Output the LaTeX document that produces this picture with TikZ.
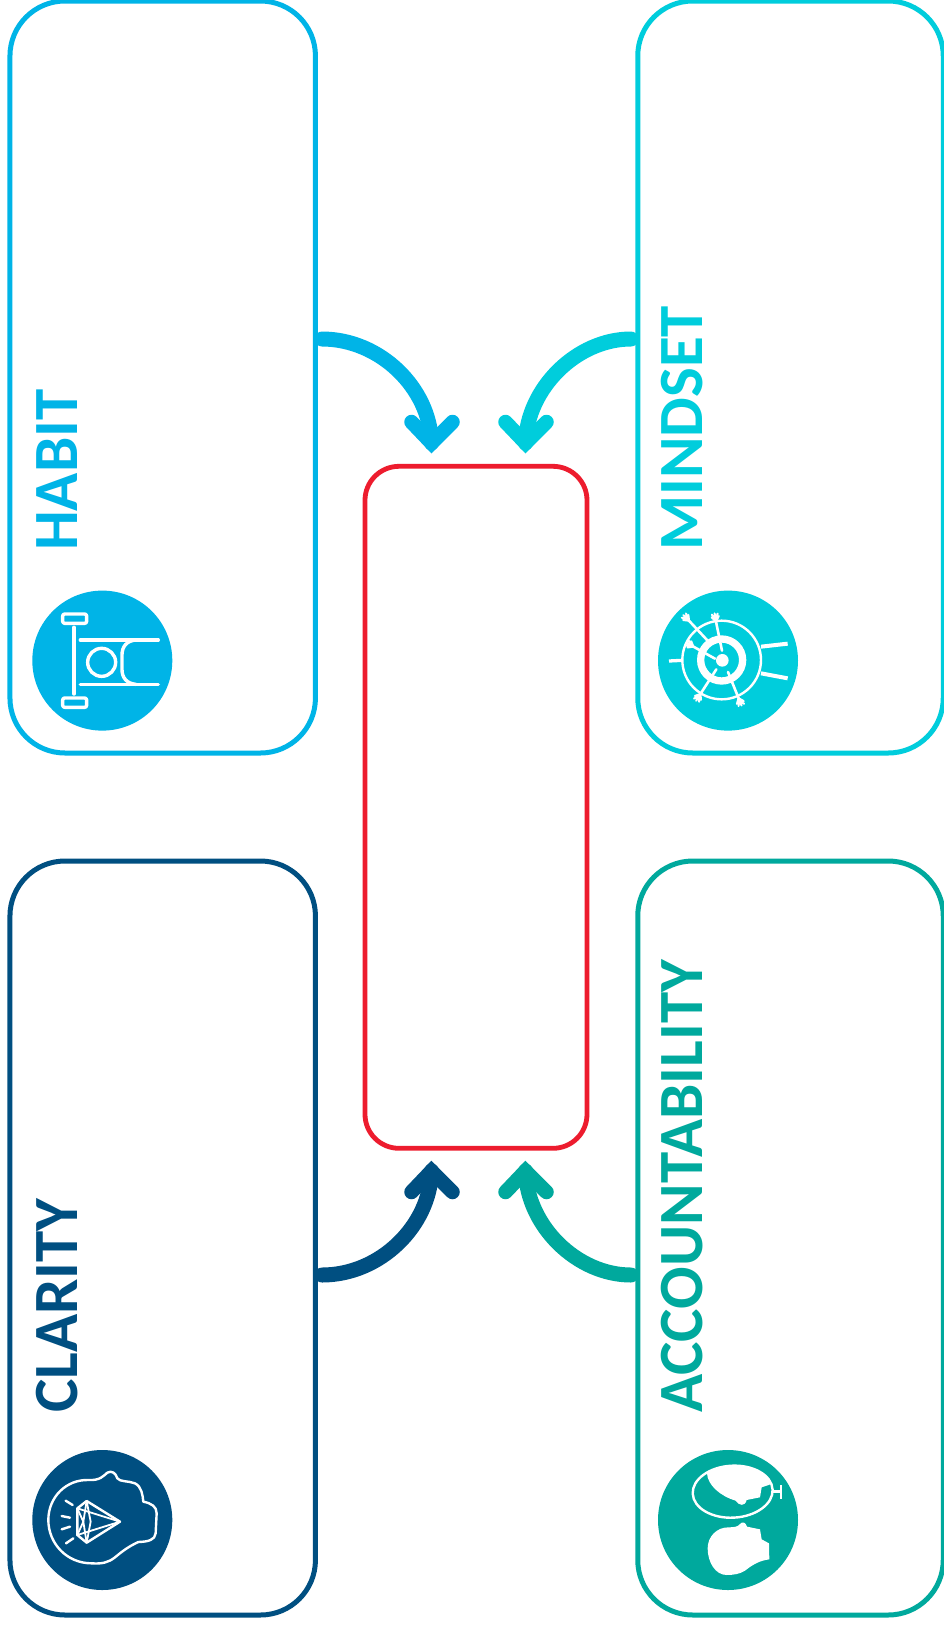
\documentclass[tikz,border=0pt]{standalone}
\usepackage{fontspec}
\setmainfont{Carlito}
\definecolor{habitc}{HTML}{00B4E7}
\definecolor{mindc}{HTML}{00CDDC}
\definecolor{clarc}{HTML}{004F81}
\definecolor{accc}{HTML}{00A99D}
\definecolor{corec}{HTML}{ED1C2E}
\tikzset{
 panel/.style={draw=#1,line width=5pt,rounded corners=55pt,inner sep=0pt,outer sep=0pt,minimum width=305.5pt,minimum height=752pt},
 corebox/.style={draw=corec,line width=4.8pt,rounded corners=34pt,inner sep=0pt,outer sep=0pt,minimum width=222pt,minimum height=682pt},
 disc/.style={fill=#1,circle,inner sep=0pt,outer sep=0pt,minimum size=140pt},
 title/.style={text=#1,rotate=90,anchor=base west,inner sep=0pt,font=\fontsize{63}{66}\selectfont\bfseries},
 flow/.style={draw=#1,line width=15pt,line cap=round},
 chevron/.style={draw=#1,line width=14.5pt,line join=miter,miter limit=10,line cap=round},
 ln/.style={draw=white,line width=#1,line cap=round,line join=round},
 ln/.default=3.4pt,
}
\begin{document}
\begin{tikzpicture}[x=1pt,y=-1pt]
\useasboundingbox (0,0) rectangle (943,1626);
\fill[white] (0,0) rectangle (943,1626);
% panels
\node[panel=habitc,minimum height=752pt] (habit) at (162.7,377) {};
\node[panel=mindc,minimum height=752pt] (mindset) at (790.5,377) {};
\node[panel=clarc,minimum height=754pt] (clarity) at (162.7,1238) {};
\node[panel=accc,minimum height=754pt] (account) at (790.5,1238) {};
\node[corebox] (core) at (476,807.3) {};
% titles
\node[title=habitc] (habitt) at (77,551) {HABIT};
\node[title=mindc] (mindt) at (702,551) {MINDSET};
\node[title=clarc] (clart) at (77,1413) {CLARITY};
\node[title=accc] (acct) at (702,1413) {ACCOUNTABILITY};
% arrows
\coordinate (h0) at (322,339);\coordinate (h1) at (431.5,443);
\coordinate (m0) at (631,339);\coordinate (m1) at (525.5,443);
\coordinate (c0) at (322,1275);\coordinate (c1) at (431.5,1171);
\coordinate (a0) at (631,1275);\coordinate (a1) at (525.5,1171);
\draw[flow=habitc] (h0) .. controls (380,339) and (430,388) .. (h1);
\draw[flow=mindc] (m0) .. controls (577,339) and (527,388) .. (m1);
\draw[flow=clarc] (c0) .. controls (380,1275) and (430,1226) .. (c1);
\draw[flow=accc] (a0) .. controls (577,1275) and (527,1226) .. (a1);
\draw[chevron=habitc] ([shift={(-20,-21)}]h1) -- (h1) -- ([shift={(21,-21)}]h1);
\draw[chevron=mindc] ([shift={(-20,-21)}]m1) -- (m1) -- ([shift={(21,-21)}]m1);
\draw[chevron=clarc] ([shift={(-20,21)}]c1) -- (c1) -- ([shift={(21,21)}]c1);
\draw[chevron=accc] ([shift={(-20,21)}]a1) -- (a1) -- ([shift={(21,21)}]a1);
% discs
\node[disc=habitc] (habiti) at (102.3,660.6) {};
\node[disc=mindc] (mindi) at (728,660.6) {};
\node[disc=clarc] (clari) at (102.3,1520) {};
\node[disc=accc] (acci) at (728,1520) {};
% habit icon
\begin{scope}[shift={(20,580)},x=.3333pt,y=-.3333pt]
\draw[ln,rounded corners=2pt] (128,102) rectangle (200,130);
\draw[ln,rounded corners=2pt] (128,354) rectangle (200,382);
\draw[ln] (162,142) -- (162,342);
\draw[ln] (181,180) -- (415,180);
\draw[ln] (181,313) -- (415,313);
\draw[ln] (245,247) circle (42);
\draw[ln] (348,180) .. controls (320,182) and (306,200) .. (306,225) -- (306,268) .. controls (306,293) and (320,311) .. (348,313);
\end{scope}
% mindset icon
\begin{scope}[shift={(645,580)},x=.3333pt,y=-.3333pt]
\fill[white] (232,241) circle (19);
\draw[ln=7.3pt] (230,240) circle (63);
\draw[ln=2.4pt] (230,240) circle (118);
\draw[ln=4pt,line cap=butt] (348,200) -- (428,191);
\draw[ln=4pt,line cap=butt] (348,280) -- (428,295);
\draw[ln=3.3pt,line cap=butt] (72,243) -- (112,241);
\draw[ln=2.6pt] (132,122) -- (186,180);
\draw[ln=2.6pt] (212,120) -- (231,212);
\draw[ln=2.6pt] (140,197) -- (210,236);
\draw[ln=2.6pt] (163,347) -- (214,268);
\draw[ln=2.6pt] (283,360) -- (249,276);
\foreach \px/\py/\an in {128/118/-135, 212/118/-100, 140/197/-150, 163/347/122, 283/360/68}{
  \begin{scope}[shift={(\px,\py)},rotate=-\an]
  \draw[ln=2pt] (0,0) -- (16,-9) (0,0) -- (18,0) (0,0) -- (16,9) (-6,0) -- (8,-11) (-6,0) -- (8,11);
  \end{scope}
}
\end{scope}
% clarity icon
\begin{scope}[shift={(20,1440)},x=.3333pt,y=-.3333pt]
\draw[ln=2.4pt] (85,240) .. controls (85,170) and (140,118) .. (205,120) .. controls (240,122) and (250,108) .. (262,98) .. controls (275,90) and (288,100) .. (292,115) .. controls (300,126) and (325,122) .. (345,130) .. controls (365,140) and (368,165) .. (370,185) .. controls (395,190) and (410,200) .. (410,220) -- (407,280) .. controls (405,300) and (385,305) .. (355,306) .. controls (320,322) and (300,340) .. (285,352) .. controls (265,368) and (245,372) .. (215,370) .. controls (140,370) and (85,310) .. (85,240) -- cycle;
\draw[ln=2.4pt] (300,245) -- (200,183) -- (172,205) -- (172,285) -- (200,308) -- cycle;
\draw[ln=1.8pt] (172,205) -- (300,245) -- (172,285);
\draw[ln=1.8pt] (200,183) -- (212,245) -- (200,308);
\draw[ln=1.8pt] (172,205) -- (190,245) -- (172,285);
\draw[ln=1.8pt] (200,183) -- (190,245) -- (200,308);
\draw[ln=2.4pt] (137,182) -- (158,195);
\draw[ln=2.4pt] (125,228) -- (150,233);
\draw[ln=2.4pt] (125,268) -- (150,260);
\draw[ln=2.4pt] (138,310) -- (160,295);
\end{scope}
% accountability icon
\begin{scope}[shift={(645,1440)},x=.3333pt,y=-.3333pt]
\begin{scope}
\clip[rotate around={3:(263,155)}] (263,155) ellipse (120 and 78);
\fill[white] (186,60) -- (186,100) .. controls (188,135) and (225,168) .. (272,182) .. controls (282,198) and (300,200) .. (305,180) -- (345,172) -- (350,142) -- (385,130) -- (385,60) -- cycle;
\end{scope}
\draw[ln=2.4pt,rotate around={3:(263,155)}] (263,155) ellipse (120 and 78);
\draw[ln=2.4pt,line cap=butt] (385,155) -- (408,155);
\draw[ln=2.8pt,line cap=butt] (408,135) -- (408,176);
\fill[white] (188,325) .. controls (188,290) and (215,262) .. (250,262) .. controls (268,262) and (280,260) .. (285,252) .. controls (292,244) and (302,246) .. (306,260) -- (345,268) -- (350,298) -- (372,310) -- (373,358) .. controls (345,362) and (325,372) .. (300,392) .. controls (285,402) and (265,405) .. (245,405) .. controls (210,405) and (188,365) .. (188,325) -- cycle;
\end{scope}
\end{tikzpicture}
\end{document}
